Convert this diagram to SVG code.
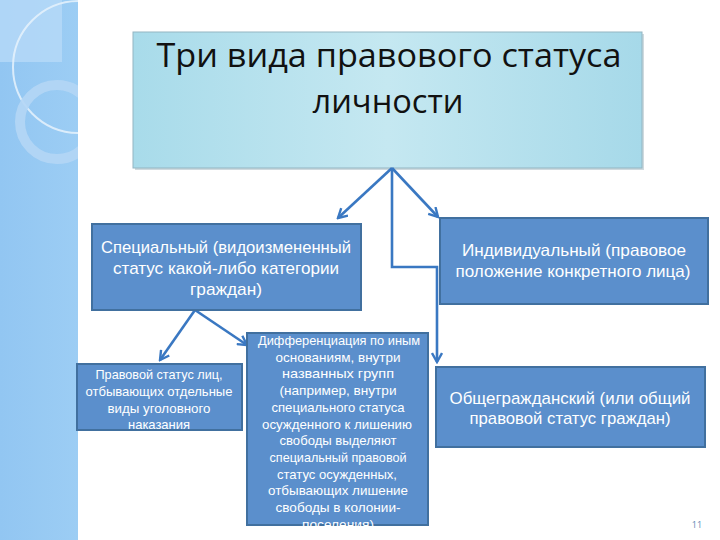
<svg xmlns="http://www.w3.org/2000/svg" width="720" height="540" viewBox="0 0 720 540">
<style>
.box{fill:#5b8fcc;stroke:#41709f;stroke-width:2}
.wt{fill:#ffffff;font-family:"Liberation Sans","Open Sans",sans-serif;text-anchor:middle}
.conn{fill:none;stroke:#3a78c2;stroke-width:2.6}
</style>
<defs>
<linearGradient id="band" x1="0" y1="0" x2="1" y2="0">
<stop offset="0" stop-color="#92c6f2"/><stop offset="1" stop-color="#9ccdf4"/>
</linearGradient>
<linearGradient id="tg" x1="0" y1="0" x2="1" y2="0">
<stop offset="0" stop-color="#a8dbea"/><stop offset="0.5" stop-color="#c5e8f1"/><stop offset="1" stop-color="#a6d9e9"/>
</linearGradient>
<marker id="ah" viewBox="0 0 12 12" refX="10" refY="6" markerWidth="12" markerHeight="12" markerUnits="userSpaceOnUse" orient="auto">
<path d="M1,1 L10,6 L1,11" fill="none" stroke="#3a78c2" stroke-width="2.4"/>
</marker>
<clipPath id="cl"><rect x="0" y="0" width="78" height="540"/></clipPath>
<clipPath id="mid"><rect x="247" y="330" width="182" height="197"/></clipPath>
</defs>
<rect width="720" height="540" fill="#ffffff"/>
<g id="band-deco">
<rect x="0" y="0" width="78" height="540" fill="url(#band)"/>
<g clip-path="url(#cl)">
<rect x="0" y="0" width="62" height="62" fill="#b7d9f7" opacity="0.8"/>
<circle cx="79" cy="67" r="66" fill="none" stroke="#e6f2fc" stroke-width="2" opacity="0.85"/>
<circle cx="57" cy="122" r="37" fill="none" stroke="#b4d6f5" stroke-width="10" opacity="0.9"/>
</g>
</g>
<g id="title">
<rect x="135" y="34" width="509" height="136" fill="#9fb6c0" opacity="0.5"/>
<rect x="133" y="32" width="509" height="136" fill="url(#tg)" stroke="#93b5c2" stroke-width="1"/>
<text x="389" y="67" font-family="'Open Sans','Liberation Sans',sans-serif" font-size="33" fill="#111111" text-anchor="middle" textLength="465" lengthAdjust="spacingAndGlyphs">Три вида правового статуса</text>
<text x="388" y="113" font-family="'Open Sans','Liberation Sans',sans-serif" font-size="33" fill="#111111" text-anchor="middle" textLength="151" lengthAdjust="spacingAndGlyphs">личности</text>
</g>
<g id="connectors">
<line class="conn" x1="392" y1="168" x2="338" y2="218" marker-end="url(#ah)"/>
<line class="conn" x1="392" y1="168" x2="438" y2="217" marker-end="url(#ah)"/>
<polyline class="conn" points="392,168 392,267 437,267 437,362" marker-end="url(#ah)"/>
<line class="conn" x1="195" y1="310" x2="160" y2="360" marker-end="url(#ah)"/>
<line class="conn" x1="195" y1="310" x2="247" y2="345" marker-end="url(#ah)"/>
</g>
<g id="special">
<rect class="box" x="92" y="224" width="269" height="86"/>
<text class="wt" font-size="17" x="226" y="253" textLength="250" lengthAdjust="spacingAndGlyphs">Специальный (видоизмененный</text>
<text class="wt" font-size="17" x="226" y="274" textLength="226" lengthAdjust="spacingAndGlyphs">статус какой-либо  категории</text>
<text class="wt" font-size="17" x="226" y="295" textLength="72" lengthAdjust="spacingAndGlyphs">граждан)</text>
</g>
<g id="individual">
<rect class="box" x="440" y="218" width="268" height="86"/>
<text class="wt" font-size="16.5" x="574" y="256" textLength="224" lengthAdjust="spacingAndGlyphs">Индивидуальный (правовое</text>
<text class="wt" font-size="16.5" x="573" y="277" textLength="235" lengthAdjust="spacingAndGlyphs">положение конкретного лица)</text>
</g>
<g id="penal">
<rect class="box" x="77" y="364" width="165" height="66"/>
<text class="wt" font-size="13.5" x="159" y="379" textLength="127" lengthAdjust="spacingAndGlyphs">Правовой статус лиц,</text>
<text class="wt" font-size="13.5" x="159" y="396" textLength="147" lengthAdjust="spacingAndGlyphs">отбывающих отдельные</text>
<text class="wt" font-size="13.5" x="159" y="413" textLength="103" lengthAdjust="spacingAndGlyphs">виды уголовного</text>
<text class="wt" font-size="13.5" x="159" y="429" textLength="62" lengthAdjust="spacingAndGlyphs">наказания</text>
</g>
<g id="differentiation">
<rect class="box" x="247" y="333" width="181" height="192"/>
<g clip-path="url(#mid)">
<text class="wt" font-size="13.5" x="339" y="345" textLength="162" lengthAdjust="spacingAndGlyphs">Дифференциация по иным</text>
<text class="wt" font-size="13.5" x="338" y="361.7" textLength="125" lengthAdjust="spacingAndGlyphs">основаниям, внутри</text>
<text class="wt" font-size="13.5" x="338" y="378.4" textLength="112" lengthAdjust="spacingAndGlyphs">названных  групп</text>
<text class="wt" font-size="13.5" x="338" y="395.1" textLength="117" lengthAdjust="spacingAndGlyphs">(например,  внутри</text>
<text class="wt" font-size="13.5" x="338" y="411.8" textLength="133" lengthAdjust="spacingAndGlyphs">специального статуса</text>
<text class="wt" font-size="13.5" x="337" y="428.5" textLength="150" lengthAdjust="spacingAndGlyphs">осужденного к лишению</text>
<text class="wt" font-size="13.5" x="338" y="445.2" textLength="117" lengthAdjust="spacingAndGlyphs">свободы выделяют</text>
<text class="wt" font-size="13.5" x="338" y="461.9" textLength="137" lengthAdjust="spacingAndGlyphs">специальный правовой</text>
<text class="wt" font-size="13.5" x="337" y="478.6" textLength="120" lengthAdjust="spacingAndGlyphs">статус осужденных,</text>
<text class="wt" font-size="13.5" x="338" y="495.3" textLength="140" lengthAdjust="spacingAndGlyphs">отбывающих лишение</text>
<text class="wt" font-size="13.5" x="338" y="512" textLength="125" lengthAdjust="spacingAndGlyphs">свободы в колонии-</text>
<text class="wt" font-size="13.5" x="338" y="528.7" textLength="72" lengthAdjust="spacingAndGlyphs">поселения)</text>
</g>
</g>
<g id="general">
<rect class="box" x="436" y="367" width="269" height="80"/>
<text class="wt" font-size="17" x="570" y="404" textLength="241" lengthAdjust="spacingAndGlyphs">Общегражданский (или общий</text>
<text class="wt" font-size="17" x="570" y="424" textLength="201" lengthAdjust="spacingAndGlyphs">правовой статус граждан)</text>
</g>
<text x="697" y="528" font-family="'Open Sans','Liberation Sans',sans-serif" font-size="9" fill="#5f87b3" text-anchor="middle">11</text>
</svg>
